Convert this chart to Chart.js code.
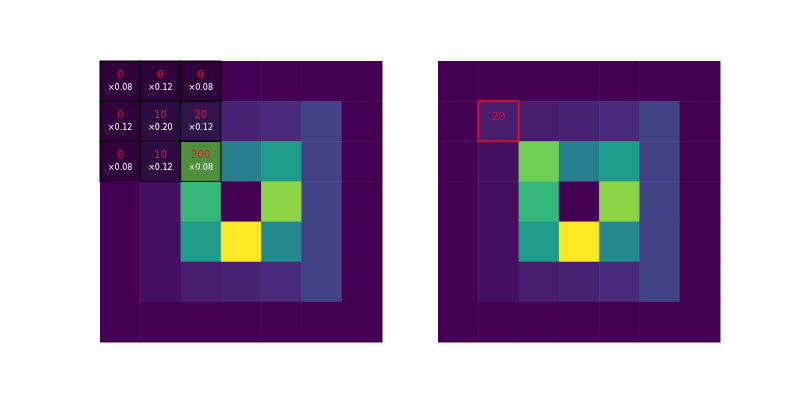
<!DOCTYPE html>
<html>
<head>
<meta charset="utf-8">
<script src="https://cdn.jsdelivr.net/npm/chart.js@4"></script>
<style>
  body { margin: 0; background: #fff; }
  .wrap { display: flex; width: 800px; height: 400px; }
  .cell { position: relative; width: 400px; height: 400px; }
</style>
</head>
<body>
<div class="wrap">
  <div class="cell"><canvas id="left"></canvas></div>
  <div class="cell"><canvas id="right"></canvas></div>
</div>
<script>
// input image (7x7) values 0..255
const inputImage = [
    [0, 0, 0, 0, 0, 0, 0],
    [0, 10, 20, 25, 30, 50, 0],
    [0, 10, 200, 110, 140, 50, 0],
    [0, 10, 170, 0, 210, 50, 0],
    [0, 10, 140, 255, 120, 50, 0],
    [0, 10, 20, 25, 30, 50, 0],
    [0, 0, 0, 0, 0, 0, 0]
];
// output image, only cell (1,1) computed
const outputImage = [
    [0, 0, 0, 0, 0, 0, 0],
    [0, 20, 20, 25, 30, 50, 0],
    [0, 10, 200, 110, 140, 50, 0],
    [0, 10, 170, 0, 210, 50, 0],
    [0, 10, 140, 255, 120, 50, 0],
    [0, 10, 20, 25, 30, 50, 0],
    [0, 0, 0, 0, 0, 0, 0]
];
const kernelWeights = [
    [0.08, 0.12, 0.08],
    [0.12, 0.20, 0.12],
    [0.08, 0.12, 0.08]
];
const outputCell = [1, 1];

// viridis stops
const viridisStops = [
    [68, 1, 84], [72, 40, 120], [62, 74, 137], [49, 104, 142], [38, 130, 142],
    [31, 158, 137], [53, 183, 121], [109, 205, 89], [180, 222, 44], [253, 231, 37]
];
let viridis = (v) => {
    let t = Math.max(0, Math.min(1, v)) * (viridisStops.length - 1);
    let i = Math.min(Math.floor(t), viridisStops.length - 2);
    let f = t - i;
    let a = viridisStops[i], b = viridisStops[i + 1];
    let c = a.map((x, k) => Math.round(x + (b[k] - x) * f));
    return `rgb(${c[0]},${c[1]},${c[2]})`;
}

let gridPlugin = (image, showKernel, showOutput) => ({
    id: 'grid',
    beforeDatasetsDraw(chart) {
        let ctx = chart.ctx;
        let xs = chart.scales.x, ys = chart.scales.y;
        let box = (r, c) => {
            let x0 = xs.getPixelForValue(c - 0.5), x1 = xs.getPixelForValue(c + 0.5);
            let y0 = ys.getPixelForValue(r - 0.5), y1 = ys.getPixelForValue(r + 0.5);
            return [x0, y0, x1 - x0, y1 - y0];
        };
        ctx.save();
        image.forEach((row, r) => row.forEach((v, c) => {
            let [x, y, w, h] = box(r, c);
            ctx.fillStyle = viridis(v / 255);
            ctx.fillRect(x, y, w + 0.5, h + 0.5);
        }));
        ctx.textAlign = 'center';
        ctx.textBaseline = 'middle';
        if (showKernel) {
            kernelWeights.forEach((row, r) => row.forEach((wt, c) => {
                let [x, y, w, h] = box(r, c);
                ctx.fillStyle = 'rgba(0,0,0,0.3)';
                ctx.fillRect(x, y, w, h);
                ctx.strokeStyle = '#000';
                ctx.lineWidth = 1;
                ctx.strokeRect(x, y, w, h);
                ctx.fillStyle = '#e3173c';
                ctx.font = '10px "DejaVu Sans"';
                ctx.fillText(String(image[r][c]), x + w / 2, y + h / 2 - 6);
                ctx.fillStyle = '#fff';
                ctx.font = '8px "DejaVu Sans"';
                ctx.fillText('×' + wt.toFixed(2), x + w / 2, y + h / 2 + 7);
            }));
        }
        if (showOutput) {
            let [r, c] = outputCell;
            let [x, y, w, h] = box(r, c);
            ctx.strokeStyle = '#d0122e';
            ctx.lineWidth = 2;
            ctx.strokeRect(x, y, w, h);
            ctx.fillStyle = '#d0122e';
            ctx.font = '11px "DejaVu Sans"';
            ctx.fillText(String(image[r][c]), x + w / 2, y + h / 2 - 4);
        }
        ctx.restore();
    }
});

let makeGrid = (id, image, showKernel, showOutput, padding) => {
    new Chart(document.getElementById(id), {
        type: 'scatter',
        data: { datasets: [{ data: [] }] },
        options: {
            responsive: false,
            animation: false,
            layout: { padding: padding },
            plugins: { legend: { display: false }, tooltip: { enabled: false } },
            scales: {
                x: { min: -0.5, max: 6.5, display: false },
                y: { min: -0.5, max: 6.5, reverse: true, display: false }
            }
        },
        plugins: [gridPlugin(image, showKernel, showOutput)]
    });
}

document.getElementById('left').width = 400;
document.getElementById('left').height = 400;
document.getElementById('right').width = 400;
document.getElementById('right').height = 400;
makeGrid('left', inputImage, true, false, { left: 100, right: 18, top: 61, bottom: 58 });
makeGrid('right', outputImage, false, true, { left: 38, right: 80, top: 61, bottom: 58 });
</script>
</body>
</html>
